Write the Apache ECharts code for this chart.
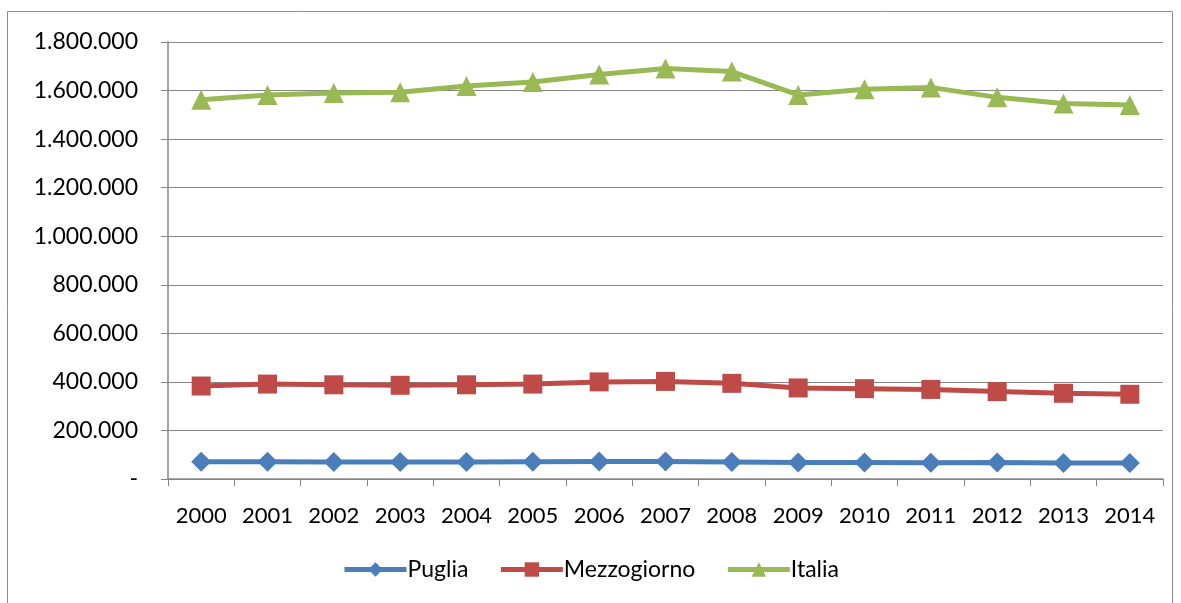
<!DOCTYPE html>
<html>
<head>
<meta charset="utf-8">
<script src="https://cdn.jsdelivr.net/npm/echarts@6/dist/echarts.min.js"></script>
<style>
  html, body { margin: 0; padding: 0; background: #fff; }
  #chart { width: 1181px; height: 603px; }
</style>
</head>
<body>
<div id="chart"></div>
<script>
const years = ['2000', '2001', '2002', '2003', '2004', '2005', '2006', '2007',
  '2008', '2009', '2010', '2011', '2012', '2013', '2014']
const puglia = [71000, 71000, 70000, 70000, 70000, 71000, 72000, 72000,
  70000, 68000, 68000, 67000, 68000, 66000, 66000]
const mezzogiorno = [383000, 391000, 388000, 386000, 388000, 391000, 400000, 402000,
  394000, 375000, 372000, 369000, 360000, 353000, 349000]
const italia = [1562000, 1582000, 1590000, 1593000, 1619000, 1635000, 1666000, 1691000,
  1678000, 1582000, 1605000, 1613000, 1572000, 1547000, 1540000]

const font = 'Lato, "Open Sans", sans-serif'

function fmt(v) {
  if (v === 0) return '-'
  return String(v).replace(/\B(?=(\d{3})+(?!\d))/g, '.')
}

const chart = echarts.init(document.getElementById('chart'))
chart.setOption({
  animation: false,
  textStyle: { fontFamily: font },
  graphic: [
    {
      type: 'rect',
      shape: { x: 7.5, y: 11.5, width: 1165, height: 620 },
      style: { fill: 'none', stroke: '#8c8c8c', lineWidth: 1 },
      silent: true
    }
  ],
  grid: { left: 168, right: 18, top: 42, bottom: 124 },
  legend: {
    bottom: 17,
    left: 'center',
    itemWidth: 62,
    itemHeight: 18,
    itemGap: 30,
    lineStyle: { width: 5 },
    textStyle: { fontSize: 23, color: '#000', fontFamily: font, padding: [0, 0, 0, -4] },
    data: ['Puglia', 'Mezzogiorno', 'Italia']
  },
  xAxis: {
    type: 'category',
    data: years,
    boundaryGap: true,
    axisLine: { lineStyle: { color: '#868686', width: 1.5 } },
    axisTick: { show: true, length: 7, lineStyle: { color: '#868686' } },
    axisLabel: { fontSize: 22, color: '#000', margin: 26, interval: 0 }
  },
  yAxis: {
    type: 'value',
    min: 0,
    max: 1800000,
    interval: 200000,
    axisLine: { show: true, lineStyle: { color: '#868686', width: 1.5 } },
    axisTick: { show: true, length: 7, lineStyle: { color: '#868686' } },
    splitLine: { lineStyle: { color: '#868686', width: 1.2 } },
    axisLabel: { fontSize: 23, color: '#000', margin: 30, formatter: fmt }
  },
  series: [
    {
      name: 'Puglia',
      type: 'line',
      data: puglia,
      symbol: 'diamond',
      symbolSize: 20,
      color: '#4a7ebb',
      lineStyle: { width: 5 }
    },
    {
      name: 'Mezzogiorno',
      type: 'line',
      data: mezzogiorno,
      symbol: 'rect',
      symbolSize: 19,
      color: '#be4b48',
      lineStyle: { width: 5 }
    },
    {
      name: 'Italia',
      type: 'line',
      data: italia,
      symbol: 'triangle',
      symbolSize: 20,
      color: '#98b954',
      lineStyle: { width: 5 }
    }
  ]
})
</script>
</body>
</html>
